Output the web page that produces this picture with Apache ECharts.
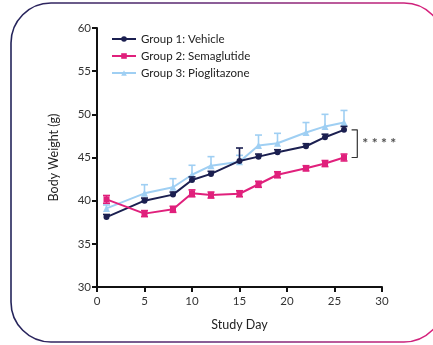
<!DOCTYPE html>
<html>
<head>
<meta charset="utf-8">
<script src="https://cdn.jsdelivr.net/npm/echarts@6/dist/echarts.min.js"></script>
<style>
  html, body { margin: 0; padding: 0; background: #ffffff; }
  #chart { width: 433px; height: 345px; }
</style>
</head>
<body>
<div id="chart"></div>
<script>
// Study days at which body weight was measured
const studyDays = [1, 5, 8, 10, 12, 15, 17, 19, 22, 24, 26];

// Group means (g)
const vehicleMean      = [38.1, 40.0, 40.7, 42.4, 43.1, 44.6, 45.1, 45.6, 46.3, 47.35, 48.2];
const semaglutideMean  = [40.15, 38.5, 39.0, 40.85, 40.65, 40.8, 41.9, 43.0, 43.75, 44.3, 45.0];
const pioglitazoneMean = [39.1, 40.85, 41.55, 43.0, 44.05, 44.5, 46.4, 46.65, 47.9, 48.6, 49.05];

// Group SEM (g)
const vehicleSem      = [0.3, 0.3, 0.3, 0.35, 0.3, 1.5, 0.3, 0.3, 0.3, 0.35, 0.4];
const semaglutideSem  = [0.45, 0.35, 0.35, 0.4, 0.35, 0.35, 0.35, 0.35, 0.3, 0.35, 0.4];
const pioglitazoneSem = [0.4, 1.0, 1.0, 1.1, 1.05, 0.75, 1.2, 1.15, 1.15, 1.4, 1.4];

const groupNames = ['Group 1: Vehicle', 'Group 2: Semaglutide', 'Group 3: Pioglitazone'];
const yTicks = { min: 30, max: 60, step: 5 };
const xTicks = { min: 0, max: 30, step: 5 };

// Significance bracket between Vehicle and Semaglutide at day 26
const bracketX = [26.8, 27.4];
const bracketY = [48.2, 45.0];
const significanceText = '****';

const NAVY = '#1b1f50';
const PINK = '#e0207c';
const BLUE = '#9fcff3';
const FONT = 'Lato';

function pairs(xs, ys) { return xs.map((x, i) => [x, ys[i]]); }

// upOnly: draw only the upper half of the error bar
function errorSeries(means, sems, color, upOnly, z) {
  return {
    type: 'custom',
    silent: true,
    z: z,
    data: studyDays.map((d, i) => [d, means[i], upOnly ? means[i] : means[i] - sems[i], means[i] + sems[i]]),
    renderItem: function (params, api) {
      const x = api.value(0);
      const top = api.coord([x, api.value(3)]);
      const bot = api.coord([x, api.value(2)]);
      const cap = 3.5;
      const st = { stroke: color, lineWidth: 1.6 };
      const children = [
        { type: 'line', shape: { x1: top[0], y1: top[1], x2: bot[0], y2: bot[1] }, style: st },
        { type: 'line', shape: { x1: top[0] - cap, y1: top[1], x2: top[0] + cap, y2: top[1] }, style: st }
      ];
      if (!upOnly) {
        children.push({ type: 'line', shape: { x1: bot[0] - cap, y1: bot[1], x2: bot[0] + cap, y2: bot[1] }, style: st });
      }
      return { type: 'group', children: children };
    }
  };
}

function lineSeries(name, means, color, symbol, size, z) {
  return {
    name: name,
    type: 'line',
    z: z,
    data: pairs(studyDays, means),
    symbol: symbol,
    symbolSize: size,
    lineStyle: { color: color, width: 2 },
    itemStyle: { color: color },
    emphasis: { disabled: true }
  };
}

const chart = echarts.init(document.getElementById('chart'), null, { renderer: 'canvas' });

chart.setOption({
  animation: false,
  backgroundColor: '#ffffff',
  graphic: [{
    type: 'rect',
    shape: { x: 11, y: 3, width: 433, height: 339, r: 40 },
    style: {
      fill: 'none',
      lineWidth: 1.6,
      stroke: new echarts.graphic.LinearGradient(0, 0, 1, 0, [
        { offset: 0, color: '#23245a' },
        { offset: 0.5, color: '#6a2a78' },
        { offset: 1, color: '#e0207c' }
      ])
    },
    silent: true,
    z: -10
  }],
  grid: { left: 97, top: 28, right: 51, bottom: 58, containLabel: false },
  legend: {
    data: groupNames,
    orient: 'vertical',
    left: 106,
    top: 28,
    itemWidth: 24,
    itemHeight: 7,
    itemGap: 5,
    textStyle: { fontFamily: FONT, fontSize: 11.5, color: '#222' }
  },
  xAxis: {
    type: 'value',
    min: xTicks.min,
    max: xTicks.max,
    interval: xTicks.step,
    name: 'Study Day',
    nameLocation: 'middle',
    nameGap: 31,
    nameTextStyle: { fontFamily: FONT, fontSize: 12.5, color: '#222' },
    axisLine: { lineStyle: { color: '#111', width: 2 } },
    axisTick: { show: true, length: 5, lineStyle: { color: '#111', width: 2 } },
    axisLabel: { fontFamily: FONT, fontSize: 11.5, color: '#333', margin: 8 },
    splitLine: { show: false }
  },
  yAxis: {
    type: 'value',
    min: yTicks.min,
    max: yTicks.max,
    interval: yTicks.step,
    name: 'Body Weight (g)',
    nameLocation: 'middle',
    nameGap: 37,
    nameTextStyle: { fontFamily: FONT, fontSize: 12.5, color: '#222' },
    axisLine: { show: true, lineStyle: { color: '#111', width: 2 } },
    axisTick: { show: true, length: 5, lineStyle: { color: '#111', width: 2 } },
    axisLabel: { fontFamily: FONT, fontSize: 11.5, color: '#333', margin: 6 },
    splitLine: { show: false }
  },
  series: [
    errorSeries(pioglitazoneMean, pioglitazoneSem, BLUE, true, 3),
    lineSeries(groupNames[2], pioglitazoneMean, BLUE, 'triangle', 7, 4),
    errorSeries(vehicleMean, vehicleSem, NAVY, true, 5),
    lineSeries(groupNames[0], vehicleMean, NAVY, 'circle', 6, 6),
    errorSeries(semaglutideMean, semaglutideSem, PINK, false, 7),
    lineSeries(groupNames[1], semaglutideMean, PINK, 'rect', 6, 8),
    {
      type: 'line',
      silent: true,
      symbol: 'none',
      data: [[bracketX[0], bracketY[0]], [bracketX[1], bracketY[0]], [bracketX[1], bracketY[1]], [bracketX[0], bracketY[1]]],
      lineStyle: { color: '#333', width: 1.2 },
      z: 9
    },
    {
      type: 'scatter',
      silent: true,
      symbolSize: 0,
      data: [[bracketX[1], (bracketY[0] + bracketY[1]) / 2]],
      label: {
        show: true,
        position: 'right',
        distance: 5,
        formatter: significanceText.split('').join(' '),
        fontFamily: FONT,
        fontSize: 14,
        fontWeight: 'bold',
        color: '#222'
      },
      z: 9
    }
  ]
});
</script>
</body>
</html>
